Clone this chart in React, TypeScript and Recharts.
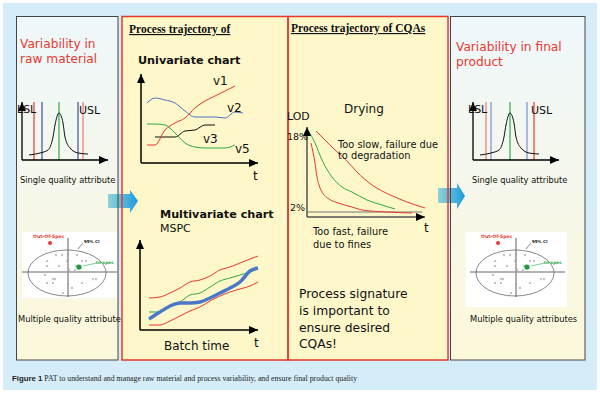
import React from "react";
import {
  LineChart,
  Line,
  XAxis,
  YAxis,
  ReferenceLine,
  ReferenceDot,
  ScatterChart,
  Scatter,
} from "recharts";

const SANS = "'DejaVu Sans', Verdana, sans-serif";
const SERIF = "'Liberation Serif', 'Times New Roman', serif";
const RED = "#e8392f";
const GREEN = "#2ca84a";
const BLUE = "#4f72c4";

// single quality attribute: distribution and spec limits
const bellX = [7, 18, 26, 31, 33, 37, 41, 43, 48, 56, 66];
const bellY = [5, 7, 10, 23, 35, 47, 37, 23, 12, 7, 6];
const rawLimits = [12, 20, 37, 56, 61];
const finalLimits = [13, 18, 37, 54, 61];

// univariate trajectories
const uniT = [6, 14, 24, 34, 44, 54, 64, 74, 84, 94, 102];
const v1 = [18, 18, 33, 40, 45, 55, 62, 67, 72, 77, null];
const v2 = [60, 65, 63, 60, 52, 46, 46, 46, 45, 51, 50];
const v3 = [null, 26, 26, 26, 32, 33, 38, 38, null, null, null];
const v5 = [39, 39, 38, 30, 20, 16, 15, 15, 15, 18, null];

// MSPC batch trajectory
const batchT = [9, 20, 30, 40, 50, 60, 70, 80, 90, 100, 110, 118];
const upperLimit = [32, 33, 37, 42, 48, 50, 54, 60, 63, 67, 71, 74];
const referenceBatch = [18, 18, 23, 28, 35, 37, 43, 49, 52, 55, 58, 61];
const currentBatch = [11, 18, 24, 27, 27, 28, 32, 37, 42, 48, 59, 62];
const lowerLimit = [5, 5, 9, 14, 19, 23, 29, 34, 38, 41, 44, 48];

// drying curves (LOD vs time)
const slowT = [9, 18, 28, 38, 50, 65, 75, 88, 100, 118];
const slowLod = [86, 77, 67, 58, 45, 32, 26, 20, 15, 9];
const targetT = [1, 8, 15, 25, 35, 45, 60, 75, 88];
const targetLod = [87, 74, 57, 40, 30, 25, 17, 12, 8];
const fastT = [4, 8, 10, 12, 15, 22, 31, 45, 55, 80, 105];
const fastLod = [74, 54, 40, 32, 25, 18, 14, 10, 7, 5, 4];
const lodFloor = 5;

// multivariate quality scores
const scoresX = [34, 40, 46, 55, 25, 45, 60, 64, 25, 37, 54, 47, 53, 23, 31, 33, 71, 74, 25, 31, 60, 50, 41];
const scoresY = [43, 43, 43, 43, 37, 37, 37, 37, 32, 32, 32, 28, 28, 23, 19, 19, 19, 19, 15, 15, 15, 10, 5];
const outOfSpec = [{ x: 28, y: 55 }];
const inSpec = [{ x: 57, y: 31 }];
const ciCenter = { x: 45, y: 25 };

const bellData = bellX.map((x, i) => ({ x, y: bellY[i] }));
const uniData = uniT.map((t, i) => ({ t, v1: v1[i], v2: v2[i], v3: v3[i], v5: v5[i] }));
const mspcData = batchT.map((t, i) => ({
  t,
  upper: upperLimit[i],
  ref: referenceBatch[i],
  batch: currentBatch[i],
  lower: lowerLimit[i],
}));
const slowData = slowT.map((t, i) => ({ t, lod: slowLod[i] }));
const targetData = targetT.map((t, i) => ({ t, lod: targetLod[i] }));
const fastData = fastT.map((t, i) => ({ t, lod: fastLod[i] }));
const scoreData = scoresX.map((x, i) => ({ x, y: scoresY[i] }));

const upHead = (p: any) => (
  <polygon points={`${p.cx},${p.cy} ${p.cx - 4},${p.cy + 9} ${p.cx + 4},${p.cy + 9}`} fill="#000" />
);
const rightHead = (p: any) => (
  <polygon points={`${p.cx},${p.cy} ${p.cx - 9},${p.cy - 4} ${p.cx - 9},${p.cy + 4}`} fill="#000" />
);

function axisMarks(w: number, h: number, color: string, width: number) {
  return [
    <ReferenceLine key="ax" x={0} stroke={color} strokeWidth={width} />,
    <ReferenceLine key="ay" y={0} stroke={color} strokeWidth={width} />,
    <ReferenceDot key="hu" x={0} y={h} shape={upHead} />,
    <ReferenceDot key="hr" x={w} y={0} shape={rightHead} />,
  ];
}

const box = (left: number, top: number): React.CSSProperties => ({ position: "absolute", left, top });

function SpecChart({ left, limits, colors }: { left: number; limits: number[]; colors: string[] }) {
  return (
    <div style={box(left, 96)}>
      <LineChart width={96} height={68} data={bellData} margin={{ top: 6, right: 6, bottom: 4, left: 4 }}>
        <XAxis type="number" dataKey="x" domain={[0, 86]} hide />
        <YAxis type="number" domain={[0, 58]} hide />
        {limits.map((v, i) => (
          <ReferenceLine key={i} x={v} stroke={colors[i]} strokeWidth={1.2} />
        ))}
        <Line dataKey="y" type="monotone" stroke="#111" strokeWidth={1} dot={false} isAnimationActive={false} />
        {axisMarks(86, 58, "#000", 1.3)}
      </LineChart>
    </div>
  );
}

function ScoreChart({ left }: { left: number }) {
  const cross = (p: any) => (
    <path
      d={`M${p.cx - 1.2},${p.cy - 1.2}L${p.cx + 1.2},${p.cy + 1.2}M${p.cx + 1.2},${p.cy - 1.2}L${p.cx - 1.2},${p.cy + 1.2}`}
      stroke="#9a9a9a"
      strokeWidth={0.6}
    />
  );
  const ellipse = (p: any) => <ellipse cx={p.cx} cy={p.cy} rx={39} ry={23} fill="none" stroke="#6a6a6a" strokeWidth={0.8} />;
  return (
    <div style={box(left, 232)}>
      <ScatterChart width={95} height={66} margin={{ top: 0, right: 0, bottom: 0, left: 0 }}>
        <XAxis type="number" dataKey="x" domain={[0, 95]} hide />
        <YAxis type="number" dataKey="y" domain={[0, 66]} hide />
        <ReferenceLine y={26} stroke="#9a9a9a" strokeWidth={1.6} />
        <ReferenceLine segment={[{ x: 46, y: 1 }, { x: 46, y: 60 }]} stroke="#9a9a9a" strokeWidth={1.6} />
        <ReferenceDot x={ciCenter.x} y={ciCenter.y} shape={ellipse} />
        <ReferenceLine segment={[{ x: 61, y: 55 }, { x: 56, y: 49 }]} stroke="#333" strokeWidth={0.6} />
        <ReferenceLine segment={[{ x: 75, y: 35 }, { x: 61, y: 32 }]} stroke={GREEN} strokeWidth={0.6} />
        <Scatter data={scoreData} shape={cross} isAnimationActive={false} />
        <Scatter data={outOfSpec} fill={RED} shape={(p: any) => <circle cx={p.cx} cy={p.cy} r={2} fill={RED} />} isAnimationActive={false} />
        <Scatter data={inSpec} shape={(p: any) => <circle cx={p.cx} cy={p.cy} r={2.6} fill="#1a9a3a" />} isAnimationActive={false} />
      </ScatterChart>
    </div>
  );
}

function T({ x, y, s, c = "#111", w = 400, f = SANS, u = false, children }: any) {
  return (
    <text x={x} y={y} fontSize={s} fill={c} fontWeight={w} fontFamily={f} textDecoration={u ? "underline" : undefined}>
      {children}
    </text>
  );
}

export default function App() {
  const rawColors = [RED, "#3d4fa6", GREEN, "#3d4fa6", "#f07a6a"];
  const finalColors = ["#f07a6a", "#7b8fd0", GREEN, "#7b8fd0", RED];
  return (
    <div style={{ position: "absolute", left: 0, top: 0, width: 600, height: 394, background: "#fff", overflow: "hidden" }}>
      <svg width={600} height={394} style={{ position: "absolute", left: 0, top: 0 }}>
        <defs>
          <linearGradient id="sidePanel" x1="0" y1="0" x2="0" y2="1">
            <stop offset="0" stopColor="#eef7fb" />
            <stop offset="1" stopColor="#fdf8da" />
          </linearGradient>
        </defs>
        <rect x={3} y={3} width={594} height={387} fill="#d5edf9" />
        <rect x={16} y={16} width={102} height={344} fill="url(#sidePanel)" />
        <rect x={122} y={16} width={326} height={344} fill="#fdf7ca" />
        <rect x={450} y={16} width={135} height={344} fill="url(#sidePanel)" />
        <rect x={22} y={232} width={95} height={66} fill="#fff" />
        <rect x={466} y={232} width={101} height={75} fill="#fff" />
      </svg>

      <SpecChart left={18} limits={rawLimits} colors={rawColors} />
      <SpecChart left={469} limits={finalLimits} colors={finalColors} />
      <ScoreChart left={22} />
      <ScoreChart left={470} />

      <div style={box(137, 68)}>
        <LineChart width={129} height={99} data={uniData} margin={{ top: 6, right: 8, bottom: 4, left: 4 }}>
          <XAxis type="number" dataKey="t" domain={[0, 117]} hide />
          <YAxis type="number" domain={[0, 89]} hide />
          <Line dataKey="v2" type="monotone" stroke={BLUE} strokeWidth={1} dot={false} isAnimationActive={false} />
          <Line dataKey="v3" type="monotone" stroke="#111" strokeWidth={1} dot={false} isAnimationActive={false} />
          <Line dataKey="v5" type="monotone" stroke={GREEN} strokeWidth={1} dot={false} isAnimationActive={false} />
          <Line dataKey="v1" type="monotone" stroke={RED} strokeWidth={1} dot={false} isAnimationActive={false} />
          {axisMarks(117, 89, "#000", 1.5)}
        </LineChart>
      </div>

      <div style={box(136, 234)}>
        <LineChart width={130} height={100} data={mspcData} margin={{ top: 6, right: 8, bottom: 4, left: 4 }}>
          <XAxis type="number" dataKey="t" domain={[0, 118]} hide />
          <YAxis type="number" domain={[0, 90]} hide />
          <Line dataKey="upper" type="monotone" stroke={RED} strokeWidth={1} dot={false} isAnimationActive={false} />
          <Line dataKey="lower" type="monotone" stroke={RED} strokeWidth={1} dot={false} isAnimationActive={false} />
          <Line dataKey="ref" type="monotone" stroke={GREEN} strokeWidth={1} dot={false} isAnimationActive={false} />
          <Line dataKey="batch" type="monotone" stroke="#4a78c8" strokeWidth={3.5} dot={false} isAnimationActive={false} />
          {axisMarks(118, 90, "#000", 1.5)}
        </LineChart>
      </div>

      <div style={box(303, 121)}>
        <LineChart width={130} height={100} margin={{ top: 6, right: 8, bottom: 4, left: 4 }}>
          <XAxis type="number" dataKey="t" domain={[0, 118]} hide />
          <YAxis type="number" dataKey="lod" domain={[0, 90]} hide />
          <ReferenceLine segment={[{ x: 0, y: lodFloor }, { x: 115, y: lodFloor }]} stroke="#777" strokeWidth={1} />
          <Line data={slowData} dataKey="lod" type="monotone" stroke={RED} strokeWidth={1} dot={false} isAnimationActive={false} />
          <Line data={targetData} dataKey="lod" type="monotone" stroke={GREEN} strokeWidth={1} dot={false} isAnimationActive={false} />
          <Line data={fastData} dataKey="lod" type="monotone" stroke={RED} strokeWidth={1} dot={false} isAnimationActive={false} />
          {axisMarks(118, 90, "#555", 1.5)}
        </LineChart>
      </div>

      <svg width={600} height={394} style={{ position: "absolute", left: 0, top: 0, pointerEvents: "none" }}>
        <defs>
          <linearGradient id="blockArrow" x1="0" y1="0" x2="1" y2="0">
            <stop offset="0" stopColor="#8fd3d6" />
            <stop offset="1" stopColor="#1f9ae0" />
          </linearGradient>
        </defs>
        <polygon points="108,194 130,194 130,190 138,201 130,213 130,208 108,208" fill="url(#blockArrow)" />
        <polygon points="438,188 457,188 457,183 465,196 457,209 457,203 438,203" fill="url(#blockArrow)" />

        <rect x={16.5} y={16.5} width={101.5} height={343.5} fill="none" stroke="#444" strokeWidth={1} />
        <rect x={122} y={16.5} width={166} height={343.5} fill="none" stroke={RED} strokeWidth={1.5} />
        <rect x={288} y={16.5} width={160} height={343.5} fill="none" stroke={RED} strokeWidth={1.5} />
        <rect x={450.5} y={16.5} width={134.5} height={343.5} fill="none" stroke="#444" strokeWidth={1} />

        <T x={20} y={48} s={12.2} c={RED}>Variability in</T>
        <T x={20} y={63} s={12.2} c={RED}>raw material</T>
        <T x={17} y={113} s={11}>LSL</T>
        <T x={79} y={114} s={11}>USL</T>
        <T x={20} y={183} s={8.3}>Single quality attribute</T>
        <T x={18} y={322} s={8.3}>Multiple quality attribute</T>

        <T x={456} y={51} s={12.2} c={RED}>Variability in final</T>
        <T x={456} y={66} s={12.2} c={RED}>product</T>
        <T x={468} y={113} s={11}>LSL</T>
        <T x={531} y={114} s={11}>USL</T>
        <T x={472} y={183} s={8.3}>Single quality attribute</T>
        <T x={470} y={322} s={8.3}>Multiple quality attributes</T>

        {[0, 448].map((dx) => (
          <g key={dx}>
            <T x={33 + dx} y={238} s={4.6} c={RED} w={700}>Out-Of-Spec</T>
            <T x={84 + dx} y={243} s={4} w={700}>95% CI</T>
            <T x={96 + dx} y={264} s={4.4} c={GREEN} w={700}>In-spec</T>
          </g>
        ))}

        <T x={129} y={33} s={11.5} w={700} f={SERIF} u>Process trajectory of</T>
        <T x={138} y={64} s={11.2} w={700}>Univariate chart</T>
        <T x={213} y={85} s={12}>v1</T>
        <T x={227} y={112} s={12}>v2</T>
        <T x={203} y={143} s={12}>v3</T>
        <T x={235} y={153} s={12}>v5</T>
        <T x={253} y={180} s={12}>t</T>
        <T x={160} y={218} s={11.2} w={700}>Multivariate chart</T>
        <T x={160} y={232} s={11}>MSPC</T>
        <T x={254} y={347} s={12}>t</T>
        <T x={164} y={350} s={12}>Batch time</T>

        <T x={291} y={32} s={11.5} w={700} f={SERIF} u>Process trajectory of CQAs</T>
        <T x={344} y={113} s={12}>Drying</T>
        <T x={287} y={120} s={10.9}>LOD</T>
        <T x={287} y={140} s={9.5}>18%</T>
        <T x={338} y={148} s={9.8}>Too slow, failure due</T>
        <T x={338} y={159} s={9.8}>to degradation</T>
        <T x={290} y={211} s={9.5}>2%</T>
        <T x={424} y={232} s={12}>t</T>
        <T x={313} y={235} s={9.8}>Too fast, failure</T>
        <T x={313} y={248} s={9.8}>due to fines</T>
        <T x={299} y={298} s={12.3}>Process signature</T>
        <T x={299} y={315} s={12.3}>is important to</T>
        <T x={299} y={332} s={12.3}>ensure desired</T>
        <T x={299} y={348} s={12.3}>CQAs!</T>

        <text x={12} y={381} fontSize={7.8} fill="#222">
          <tspan fontFamily="'Liberation Sans', Arial, sans-serif" fontWeight={700}>Figure 1</tspan>
          <tspan fontFamily={SERIF}> PAT to understand and manage raw material and process variability, and ensure final product quality</tspan>
        </text>
      </svg>
    </div>
  );
}
